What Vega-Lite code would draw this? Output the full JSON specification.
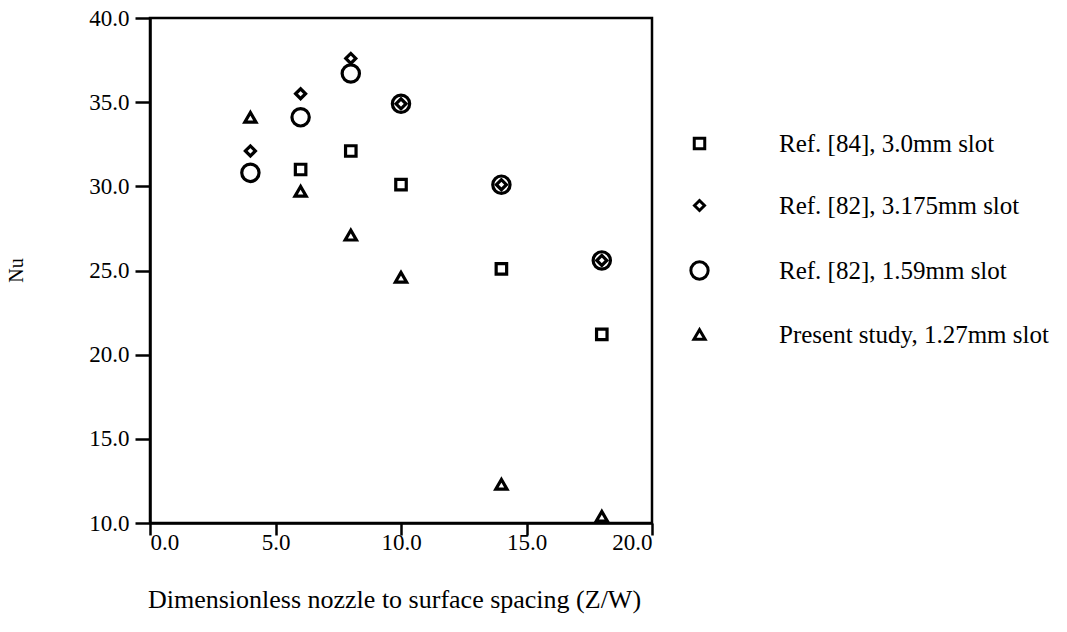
{
  "$schema": "https://vega.github.io/schema/vega-lite/v6.json",
  "autosize": "none",
  "width": 502,
  "height": 505,
  "padding": {"left": 150, "top": 18, "right": 415, "bottom": 109},
  "background": "white",
  "config": {
    "font": "Liberation Serif",
    "view": {"stroke": "black", "strokeWidth": 2.5},
    "axis": {
      "grid": false,
      "domainColor": "black",
      "domainWidth": 2.5,
      "tickColor": "black",
      "tickWidth": 2.5,
      "labelFont": "Liberation Serif",
      "labelColor": "black",
      "titleFont": "Liberation Serif",
      "titleFontWeight": "normal",
      "titleFontSize": 26,
      "titleColor": "black"
    },
    "legend": {
      "labelFont": "Liberation Serif",
      "labelFontSize": 25,
      "labelColor": "black",
      "labelLimit": 400
    }
  },
  "data": {
    "values": [
      {"zw": 6, "nu": 31.0, "series": "Ref. [84], 3.0mm slot"},
      {"zw": 8, "nu": 32.1, "series": "Ref. [84], 3.0mm slot"},
      {"zw": 10, "nu": 30.1, "series": "Ref. [84], 3.0mm slot"},
      {"zw": 14, "nu": 25.1, "series": "Ref. [84], 3.0mm slot"},
      {"zw": 18, "nu": 21.2, "series": "Ref. [84], 3.0mm slot"},
      {"zw": 4, "nu": 32.1, "series": "Ref. [82], 3.175mm slot"},
      {"zw": 6, "nu": 35.5, "series": "Ref. [82], 3.175mm slot"},
      {"zw": 8, "nu": 37.6, "series": "Ref. [82], 3.175mm slot"},
      {"zw": 10, "nu": 34.9, "series": "Ref. [82], 3.175mm slot"},
      {"zw": 14, "nu": 30.1, "series": "Ref. [82], 3.175mm slot"},
      {"zw": 18, "nu": 25.6, "series": "Ref. [82], 3.175mm slot"},
      {"zw": 4, "nu": 30.8, "series": "Ref. [82], 1.59mm slot"},
      {"zw": 6, "nu": 34.1, "series": "Ref. [82], 1.59mm slot"},
      {"zw": 8, "nu": 36.7, "series": "Ref. [82], 1.59mm slot"},
      {"zw": 10, "nu": 34.9, "series": "Ref. [82], 1.59mm slot"},
      {"zw": 14, "nu": 30.1, "series": "Ref. [82], 1.59mm slot"},
      {"zw": 18, "nu": 25.6, "series": "Ref. [82], 1.59mm slot"},
      {"zw": 4, "nu": 34.1, "series": "Present study, 1.27mm slot"},
      {"zw": 6, "nu": 29.7, "series": "Present study, 1.27mm slot"},
      {"zw": 8, "nu": 27.1, "series": "Present study, 1.27mm slot"},
      {"zw": 10, "nu": 24.6, "series": "Present study, 1.27mm slot"},
      {"zw": 14, "nu": 12.3, "series": "Present study, 1.27mm slot"},
      {"zw": 18, "nu": 10.4, "series": "Present study, 1.27mm slot"}
    ]
  },
  "mark": {"type": "point", "filled": false, "stroke": "black", "strokeWidth": 3.2, "opacity": 1},
  "encoding": {
    "x": {
      "field": "zw",
      "type": "quantitative",
      "scale": {"domain": [0, 20], "nice": false, "zero": false},
      "axis": {
        "values": [0, 5, 10, 15, 20],
        "format": ".1f",
        "labelFontSize": 23,
        "tickSize": 12,
        "labelPadding": -4,
        "title": "Dimensionless nozzle to surface spacing (Z/W)",
        "titleX": 244,
        "titleY": 76,
        "titleBaseline": "middle",
        "titleAlign": "center"
      }
    },
    "y": {
      "field": "nu",
      "type": "quantitative",
      "scale": {"domain": [10, 40], "nice": false, "zero": false},
      "axis": {
        "values": [10, 15, 20, 25, 30, 35, 40],
        "format": ".1f",
        "labelFontSize": 23,
        "tickSize": 15,
        "labelPadding": 6,
        "title": "Nu",
        "titleAngle": 270,
        "titleX": -134,
        "titleY": 252,
        "titleBaseline": "middle",
        "titleAlign": "center",
        "titleFontSize": 20
      }
    },
    "shape": {
      "field": "series",
      "type": "nominal",
      "scale": {
        "domain": ["Ref. [84], 3.0mm slot", "Ref. [82], 3.175mm slot", "Ref. [82], 1.59mm slot", "Present study, 1.27mm slot"],
        "range": ["square", "diamond", "circle", "triangle-up"]
      },
      "legend": {
        "title": null,
        "orient": "none",
        "legendX": 537,
        "legendY": 113,
        "padding": 0,
        "rowPadding": 36,
        "labelOffset": 67,
        "symbolStrokeColor": "black",
        "symbolStrokeWidth": 3,
        "symbolFillColor": "transparent"
      }
    },
    "size": {
      "field": "series",
      "type": "nominal",
      "scale": {
        "type": "ordinal",
        "domain": ["Ref. [84], 3.0mm slot", "Ref. [82], 3.175mm slot", "Ref. [82], 1.59mm slot", "Present study, 1.27mm slot"],
        "range": [110, 100, 300, 125]
      }
    }
  }
}
